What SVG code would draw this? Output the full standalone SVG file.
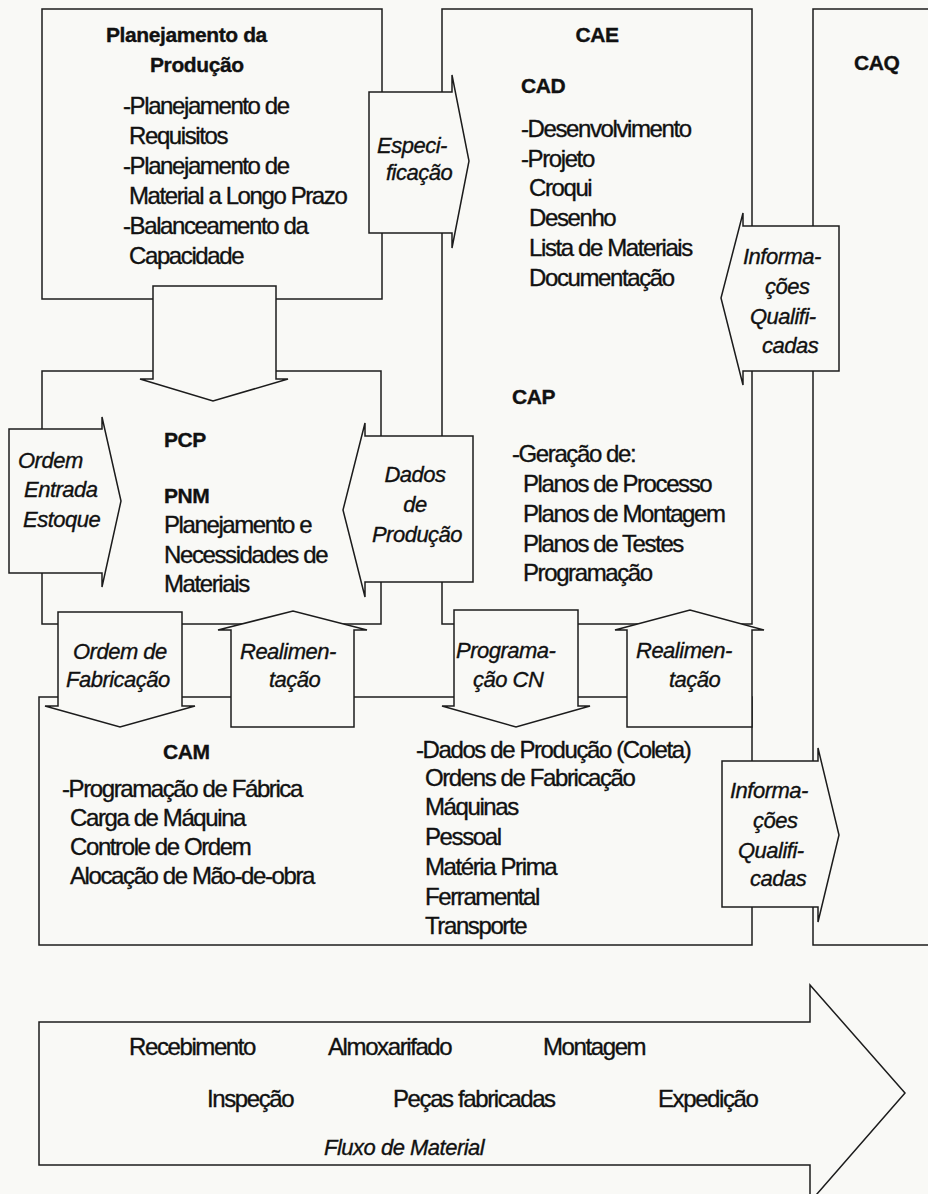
<svg xmlns="http://www.w3.org/2000/svg" width="928" height="1194" viewBox="0 0 928 1194">
  <style>
    .box { fill: none; stroke: #1c1c1c; stroke-width: 1.5; }
    .arr { fill: #f9f9f6; stroke: #1c1c1c; stroke-width: 1.5; stroke-linejoin: miter; }
    text { font-family: "Liberation Sans", Arial, sans-serif; fill: #111; stroke: #111; stroke-width: 0.35px; }
    .t { font-size: 24px; letter-spacing: -1.4px; }
    .b { font-size: 21px; font-weight: bold; letter-spacing: -0.4px; }
    .i { font-size: 22px; font-style: italic; letter-spacing: -0.5px; }
    .c { text-anchor: middle; }
  </style>

  <rect x="0" y="0" width="928" height="1194" fill="#f9f9f6"/>

  <!-- Planejamento da Produção -->
  <g id="planejamento">
    <rect class="box" x="42" y="9" width="340" height="290"/>
    <text class="b" x="106" y="42">Planejamento da</text>
    <text class="b" x="150" y="72">Produção</text>
    <text class="t" x="123" y="114">-Planejamento de</text>
    <text class="t" x="129" y="144">Requisitos</text>
    <text class="t" x="123" y="174">-Planejamento de</text>
    <text class="t" x="129" y="204">Material a Longo Prazo</text>
    <text class="t" x="123" y="234">-Balanceamento da</text>
    <text class="t" x="129" y="264">Capacidade</text>
  </g>

  <!-- CAE (CAD + CAP) -->
  <g id="cae">
    <rect class="box" x="442" y="9" width="310" height="615"/>
    <text class="b c" x="597" y="42">CAE</text>
    <text class="b" x="521" y="93">CAD</text>
    <text class="t" x="521" y="137">-Desenvolvimento</text>
    <text class="t" x="521" y="167">-Projeto</text>
    <text class="t" x="529" y="196">Croqui</text>
    <text class="t" x="529" y="226">Desenho</text>
    <text class="t" x="529" y="256">Lista de Materiais</text>
    <text class="t" x="529" y="286">Documentação</text>
    <text class="b" x="512" y="404">CAP</text>
    <text class="t" x="512" y="462">-Geração de:</text>
    <text class="t" x="523" y="492">Planos de Processo</text>
    <text class="t" x="523" y="522">Planos de Montagem</text>
    <text class="t" x="523" y="552">Planos de Testes</text>
    <text class="t" x="523" y="581">Programação</text>
  </g>

  <!-- CAQ (open to the right) -->
  <g id="caq">
    <path class="box" d="M940,9 H813 V945 H940"/>
    <text class="b" x="854" y="70">CAQ</text>
  </g>

  <!-- PCP -->
  <g id="pcp">
    <rect class="box" x="42" y="371" width="339" height="253"/>
    <text class="b" x="164" y="447">PCP</text>
    <text class="b" x="164" y="503">PNM</text>
    <text class="t" x="164" y="533">Planejamento e</text>
    <text class="t" x="164" y="563">Necessidades de</text>
    <text class="t" x="164" y="592">Materiais</text>
  </g>

  <!-- CAM -->
  <g id="cam">
    <rect class="box" x="39" y="697" width="713" height="248"/>
    <text class="b" x="163" y="759">CAM</text>
    <text class="t" x="62" y="797">-Programação de Fábrica</text>
    <text class="t" x="70" y="826">Carga de Máquina</text>
    <text class="t" x="70" y="855">Controle de Ordem</text>
    <text class="t" x="70" y="884">Alocação de Mão-de-obra</text>
    <text class="t" x="416" y="758">-Dados de Produção (Coleta)</text>
    <text class="t" x="425" y="786">Ordens de Fabricação</text>
    <text class="t" x="425" y="815">Máquinas</text>
    <text class="t" x="425" y="845">Pessoal</text>
    <text class="t" x="425" y="875">Matéria Prima</text>
    <text class="t" x="425" y="905">Ferramental</text>
    <text class="t" x="425" y="934">Transporte</text>
  </g>

  <!-- block arrows between the modules -->
  <g id="connectors">
    <g id="especificacao">
      <polygon class="arr" points="369,92 452,92 452,75 469,161 452,248 452,233 369,233"/>
      <text class="i" x="377" y="153">Especi-</text>
      <text class="i" x="386" y="180">ficação</text>
    </g>
    <g id="pp-to-pcp">
      <polygon class="arr" points="153,286 276,286 276,379 288,379 213,401 140,379 153,379"/>
    </g>
    <g id="ordem-entrada">
      <polygon class="arr" points="9,429 102,429 102,417 121,501 102,587 102,573 9,573"/>
      <text class="i" x="18" y="468">Ordem</text>
      <text class="i" x="24" y="497">Entrada</text>
      <text class="i" x="23" y="527">Estoque</text>
    </g>
    <g id="dados-producao">
      <polygon class="arr" points="473,436 365,436 365,423 343,510 365,597 365,582 473,582"/>
      <text class="i c" x="415" y="482">Dados</text>
      <text class="i c" x="415" y="512">de</text>
      <text class="i c" x="417" y="542">Produção</text>
    </g>
    <g id="info-upper">
      <polygon class="arr" points="839,226 743,226 743,213 721,298 743,385 743,371 839,371"/>
      <text class="i" x="743" y="264">Informa-</text>
      <text class="i" x="765" y="294">ções</text>
      <text class="i" x="750" y="324">Qualifi-</text>
      <text class="i" x="762" y="353">cadas</text>
    </g>
    <g id="ordem-fabricacao">
      <polygon class="arr" points="58,612 182,612 182,706 195,706 120,727 45,706 58,706"/>
      <text class="i" x="73" y="659">Ordem de</text>
      <text class="i" x="66" y="687">Fabricação</text>
    </g>
    <g id="realimentacao-left">
      <polygon class="arr" points="231,727 354,727 354,630 367,630 293,611 218,630 231,630"/>
      <text class="i" x="240" y="659">Realimen-</text>
      <text class="i" x="269" y="687">tação</text>
    </g>
    <g id="programacao-cn">
      <polygon class="arr" points="454,610 578,610 578,706 590,706 516,727 442,706 454,706"/>
      <text class="i" x="456" y="658">Programa-</text>
      <text class="i" x="473" y="687">ção CN</text>
    </g>
    <g id="realimentacao-right">
      <polygon class="arr" points="627,727 752,727 752,630 764,630 690,610 615,630 627,630"/>
      <text class="i" x="636" y="658">Realimen-</text>
      <text class="i" x="669" y="687">tação</text>
    </g>
    <g id="info-lower">
      <polygon class="arr" points="722,761 818,761 818,748 839,835 818,922 818,907 722,907"/>
      <text class="i" x="730" y="798">Informa-</text>
      <text class="i" x="753" y="828">ções</text>
      <text class="i" x="738" y="858">Qualifi-</text>
      <text class="i" x="750" y="886">cadas</text>
    </g>
  </g>

  <!-- material flow -->
  <g id="fluxo-material">
    <polygon class="arr" points="39,1022 810,1022 810,985 905,1093 810,1202 810,1165 39,1165"/>
    <text class="t" x="129" y="1055">Recebimento</text>
    <text class="t" x="328" y="1055">Almoxarifado</text>
    <text class="t" x="543" y="1055">Montagem</text>
    <text class="t" x="207" y="1107">Inspeção</text>
    <text class="t" x="393" y="1107">Peças fabricadas</text>
    <text class="t" x="658" y="1107">Expedição</text>
    <text class="i" x="324" y="1155">Fluxo de Material</text>
  </g>
</svg>
